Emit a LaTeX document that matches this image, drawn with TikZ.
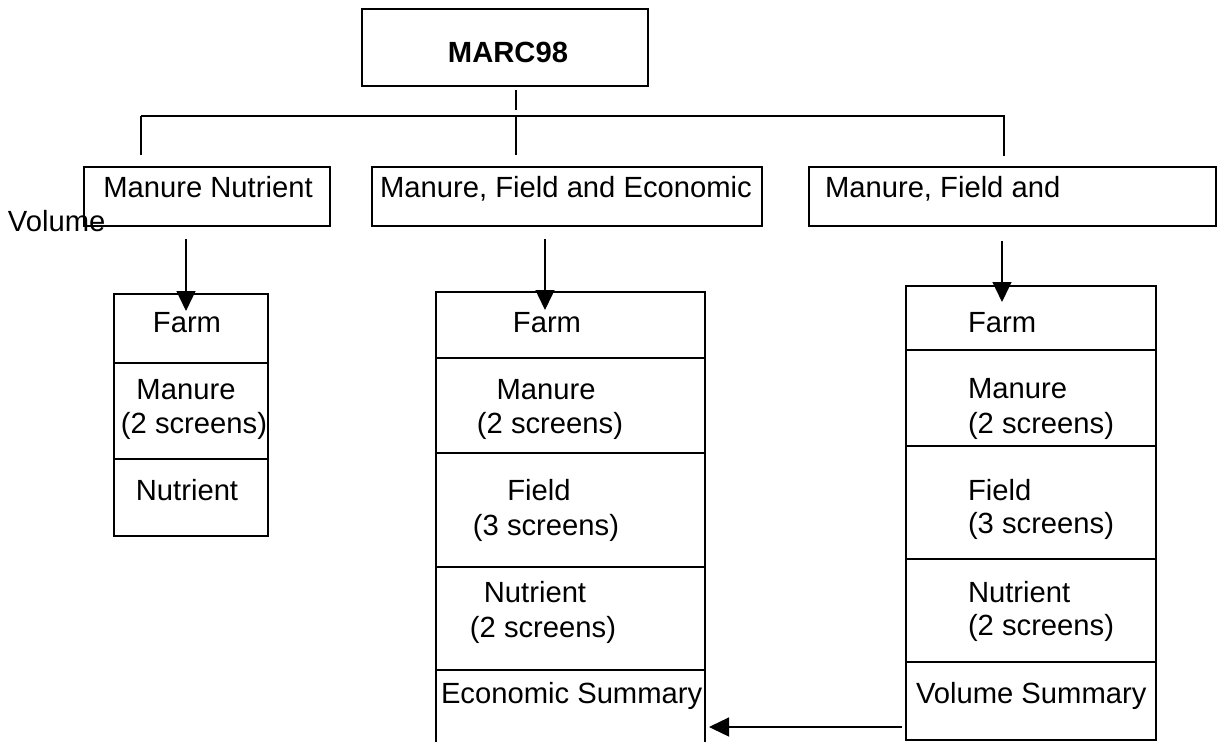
\documentclass[tikz,border=0pt]{standalone}
\usepackage{fontspec}
\setmainfont{Liberation Sans}
\usetikzlibrary{arrows.meta}
\begin{document}
\begin{tikzpicture}[x=1pt,y=-1pt,
  box/.style={draw, line width=1.4pt, inner sep=0pt, outer sep=0pt},
  thickbox/.style={draw, line width=2.4pt, inner sep=0pt, outer sep=0pt},
  lbl/.style={inner sep=0pt, outer sep=0pt, anchor=base, font=\fontsize{29.2}{34}\selectfont},
  lbll/.style={lbl, anchor=base west},
  conn/.style={line width=1.4pt},
  arr/.style={line width=1.4pt, -{Triangle[length=20pt,width=19pt]}}]
\useasboundingbox (0,0) rectangle (1218,742);
% top box
\node[box, minimum width=286pt, minimum height=77pt] (marc) at (505,47.5) {};
\node[lbl, font=\fontsize{29.2}{34}\selectfont\bfseries] (marct) at (508,62) {MARC98};
% level 2 boxes
\node[box, minimum width=246pt, minimum height=59pt] (bA) at (207,196.5) {};
\node[box, minimum width=390pt, minimum height=59pt] (bB) at (567,196.5) {};
\node[box, minimum width=407pt, minimum height=59pt] (bC) at (1012.5,196.5) {};
\node[lbl] (tA) at (208,197) {Manure Nutrient};
\node[lbl] (tB) at (566,197) {Manure, Field and Economic};
\node[lbll] (tC) at (825,197) {Manure, Field and};
\node[lbll] (tV) at (8,231) {Volume};
% tree connectors
\coordinate (t1) at (516,90);
\coordinate (t2) at (516,110);
\coordinate (hL) at (141,116);
\coordinate (hM) at (516,116);
\coordinate (hR) at (1005,116);
\coordinate (dA) at (141,155);
\coordinate (dB) at (516,155);
\coordinate (dC) at (1004,156);
\coordinate (hC) at (1004,116);
\draw[conn] (t1) -- (t2);
\draw[conn] (hL) -- (hR);
\draw[conn] (hL) -- (dA);
\draw[conn] (hM) -- (dB);
\draw[conn] (hC) -- (dC);
% left column
\node[box, minimum width=154pt, minimum height=69pt] (L1) at (191,328.5) {};
\node[thickbox, minimum width=154pt, minimum height=96pt] (L2) at (191,411) {};
\node[box, minimum width=154pt, minimum height=77pt] (L3) at (191,497.5) {};
\node[lbl] (L1t) at (187,332) {Farm};
\node[lbl] (L2t) at (186,399) {Manure};
\node[lbl] (L2s) at (194,433) {(2 screens)};
\node[lbl] (L3t) at (187,500) {Nutrient};
% middle column
\node[box, minimum width=269pt, minimum height=66pt] (M1) at (570.5,325) {};
\node[thickbox, minimum width=269pt, minimum height=95pt] (M2) at (570.5,405.5) {};
\node[box, minimum width=269pt, minimum height=114pt] (M3) at (570.5,510) {};
\node[thickbox, minimum width=269pt, minimum height=103pt] (M4) at (570.5,618.5) {};
\node[inner sep=0pt, outer sep=0pt, minimum width=269pt, minimum height=72pt] (M5) at (570.5,706) {};
\draw[conn] (M5.north west) -- (M5.south west);
\draw[conn] (M5.north east) -- (M5.south east);
\node[lbl] (M1t) at (547,332) {Farm};
\node[lbl] (M2t) at (546,399) {Manure};
\node[lbl] (M2s) at (550,433) {(2 screens)};
\node[lbl] (M3t) at (539,500) {Field};
\node[lbl] (M3s) at (546,535) {(3 screens)};
\node[lbl] (M4t) at (535,602) {Nutrient};
\node[lbl] (M4s) at (543,637) {(2 screens)};
\node[lbll] (M5t) at (441,703) {Economic Summary};
% right column
\node[box, minimum width=250pt, minimum height=64pt] (R1) at (1031,318) {};
\node[thickbox, minimum width=250pt, minimum height=96pt] (R2) at (1031,398) {};
\node[box, minimum width=250pt, minimum height=113pt] (R3) at (1031,502.5) {};
\node[thickbox, minimum width=250pt, minimum height=103pt] (R4) at (1031,610.5) {};
\node[box, minimum width=250pt, minimum height=78pt] (R5) at (1031,701) {};
\node[lbll] (R1t) at (968,332) {Farm};
\node[lbll] (R2t) at (968,398) {Manure};
\node[lbll] (R2s) at (968,433) {(2 screens)};
\node[lbll] (R3t) at (968,500) {Field};
\node[lbll] (R3s) at (968,533) {(3 screens)};
\node[lbll] (R4t) at (968,602) {Nutrient};
\node[lbll] (R4s) at (968,635) {(2 screens)};
\node[lbll] (R5t) at (916,703) {Volume Summary};
% arrows
\coordinate (aA1) at (186,239);
\coordinate (aA2) at (186,311);
\coordinate (aB1) at (545,239);
\coordinate (aB2) at (545,310);
\coordinate (aC1) at (1002,241);
\coordinate (aC2) at (1002,302);
\coordinate (aH1) at (902,727);
\coordinate (aH2) at (709,727);
\draw[arr] (aA1) -- (aA2);
\draw[arr] (aB1) -- (aB2);
\draw[arr] (aC1) -- (aC2);
\draw[arr] (aH1) -- (aH2);
\end{tikzpicture}
\end{document}
